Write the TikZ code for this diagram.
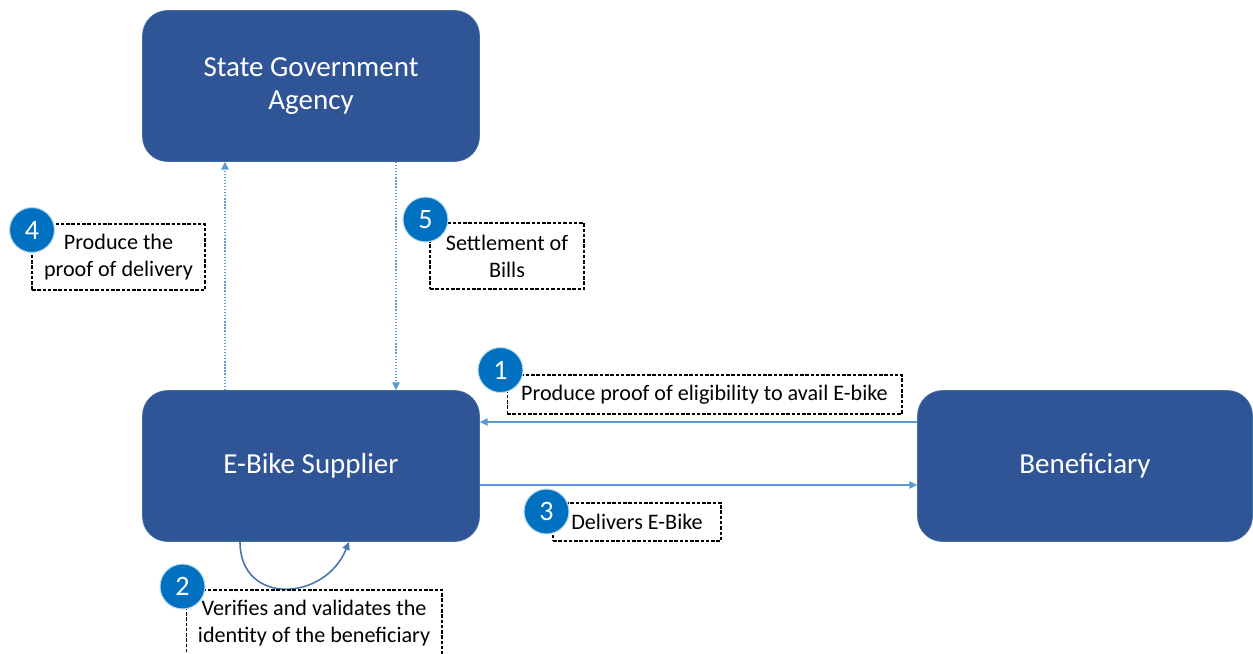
\documentclass[tikz,border=0pt]{standalone}
\usepackage{fontspec}
\setmainfont{Carlito}
\usetikzlibrary{arrows.meta,positioning}
\definecolor{boxblue}{HTML}{2F5597}
\definecolor{boxedge}{HTML}{41719C}
\definecolor{flowblue}{HTML}{5B9BD5}
\definecolor{loopblue}{HTML}{4A76B0}
\definecolor{badgeblue}{HTML}{0070C0}

\begin{document}
\begin{tikzpicture}[x=0.02cm, y=-0.02cm,
    party/.style={draw=boxedge, fill=boxblue, rounded corners=0.5cm, minimum width=6.74cm,
      minimum height=3.02cm, align=center, text=white, font=\fontsize{16.5}{18.7}\selectfont},
    note/.style={draw=black, dash pattern=on 2pt off 1pt, line width=0.6pt, align=center,
      inner sep=0pt, font=\fontsize{12.6}{15.3}\selectfont},
    badge/.style={circle, fill=badgeblue, draw=white!75!badgeblue, line width=0.6pt,
      minimum size=0.9cm, inner sep=0pt, text=white, font=\fontsize{16}{16}\selectfont},
    flow/.style={draw=flowblue, line width=0.75pt, -{Triangle[length=4.5pt,width=4.2pt]}},
    selfloop/.style={draw=loopblue, line width=0.9pt, -{Triangle[length=4.5pt,width=4.2pt]}},
  ]
  \useasboundingbox (0,0) rectangle (1253,653);

  % the three parties
  \node[party] (agency) at (311,86) {State Government\\Agency};
  \node[party] (supplier) at (311,466) {E-Bike Supplier};
  \node[party, minimum width=6.7cm] (beneficiary) at (1085,466) {Beneficiary};

  % where the connectors leave the boxes
  \coordinate (x4) at (225,0);
  \coordinate (x5) at (396,0);
  \coordinate (y1) at (0,422);
  \coordinate (y3) at (0,485);
  \coordinate (x2a) at (240,0);
  \coordinate (x2b) at (349,0);

  \draw[flow, densely dotted] (supplier.north -| x4) -- (agency.south -| x4);
  \draw[flow, densely dotted] (agency.south -| x5) -- (supplier.north -| x5);
  \draw[flow] (beneficiary.west |- y1) -- (supplier.east |- y1);
  \draw[flow] (supplier.east |- y3) -- (beneficiary.west |- y3);
  \draw[selfloop] (supplier.south -| x2a) .. controls +(0,64) and +(-24,60) .. (supplier.south -| x2b);

  % step notes
  \node[note, minimum width=3.46cm, minimum height=1.32cm] (n4) at (118.5,257) {Produce the\\proof of delivery};
  \node[note, minimum width=3.08cm, minimum height=1.32cm] (n5) at (507,256) {Settlement of\\Bills};
  \node[note, minimum width=7.9cm, minimum height=0.78cm] (n1) at (704.5,394.5) {Produce proof of eligibility to avail E-bike};
  \node[note, minimum width=3.36cm, minimum height=0.76cm] (n3) at (637,522) {Delivers E-Bike};
  \node[note, minimum width=5.12cm, minimum height=1.34cm] (n2) at (314,623.5) {Verifies and validates the\\identity of the beneficiary};

  % numbered badges
  \node[badge] (b1) at (500.5,370) {1};
  \node[badge] (b2) at (182.5,586.5) {2};
  \node[badge] (b3) at (546.5,511.5) {3};
  \node[badge] (b4) at (32,230) {4};
  \node[badge] (b5) at (425.5,219.5) {5};
\end{tikzpicture}
\end{document}
